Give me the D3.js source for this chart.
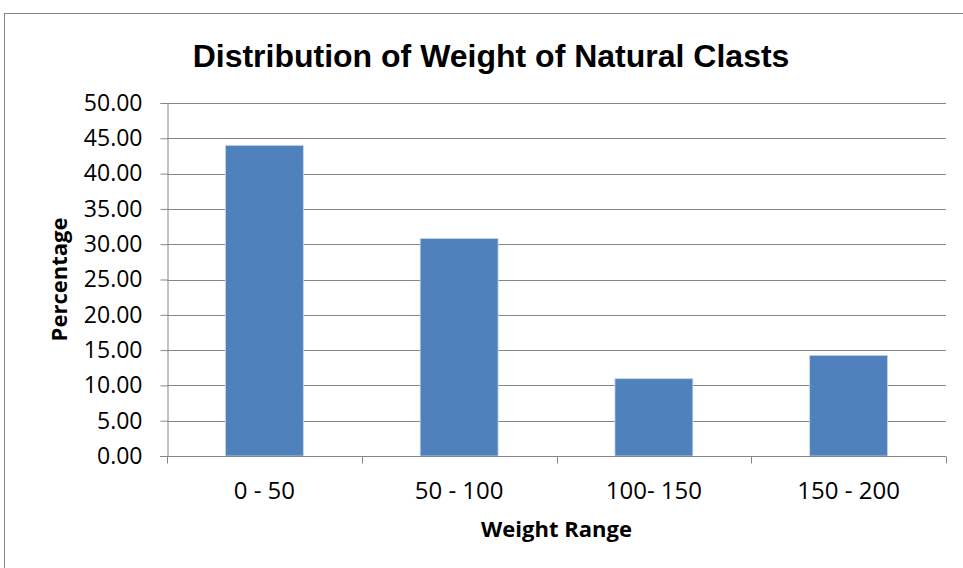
<!DOCTYPE html>
<html>
<head>
<meta charset="utf-8">
<script src="https://cdn.jsdelivr.net/npm/d3@7"></script>
<style>
  html, body { margin: 0; padding: 0; background: #fff; }
  svg { display: block; }
</style>
</head>
<body>
<svg id="chart" width="963" height="568"></svg>
<script>
const categories = ["0 - 50", "50 - 100", "100- 150", "150 - 200"];
const values = [44.0, 30.8, 10.95, 14.25];
const yTicks = [0, 5, 10, 15, 20, 25, 30, 35, 40, 45, 50];
const titleText = "Distribution of Weight of Natural Clasts";
const xTitle = "Weight Range";
const yTitle = "Percentage";

const svg = d3.select("#chart");
const plot = { left: 167, right: 946, top: 103, bottom: 456 };
const gridColor = "#868686";
const bodyFont = "'Open Sans', 'Noto Sans', sans-serif";

// outer chart border
svg.append("rect")
  .attr("x", 4.5).attr("y", 13.5)
  .attr("width", 1000).attr("height", 600)
  .attr("fill", "none").attr("stroke", gridColor).attr("stroke-width", 1);

const x = d3.scaleBand().domain(categories)
  .range([plot.left, plot.right]).paddingInner(0.6).paddingOuter(0.3);
const y = d3.scaleLinear().domain([0, 50]).range([plot.bottom, plot.top]);

// gridlines
svg.append("g").selectAll("line").data(yTicks.filter(d => d > 0)).join("line")
  .attr("x1", plot.left).attr("x2", plot.right)
  .attr("y1", d => Math.round(y(d)) + 0.5).attr("y2", d => Math.round(y(d)) + 0.5)
  .attr("stroke", gridColor).attr("stroke-width", 1);

// bars
svg.append("g").selectAll("rect").data(values).join("rect")
  .attr("x", (d, i) => x(categories[i]))
  .attr("y", d => y(d))
  .attr("width", x.bandwidth())
  .attr("height", d => y(0) - y(d))
  .attr("fill", "#4F81BD")
  .attr("stroke", "#c6d6ec").attr("stroke-width", 0.8);

// y axis
const yAxis = d3.axisLeft(y).tickValues(yTicks).tickFormat(d3.format(".2f")).tickSize(7).tickPadding(18);
const gy = svg.append("g").attr("transform", `translate(${plot.left + 0.5},0)`).call(yAxis);
gy.select(".domain").attr("stroke", gridColor);
gy.selectAll(".tick line").attr("stroke", gridColor);
gy.selectAll(".tick text")
  .attr("fill", "#000")
  .style("font-family", bodyFont)
  .style("font-size", "23px");

// x axis
const xEdges = d3.scaleLinear().domain([0, categories.length]).range([plot.left, plot.right]);
const gx = svg.append("g").attr("transform", `translate(0,${plot.bottom + 0.5})`);
gx.append("line").attr("x1", plot.left - 7).attr("x2", plot.right).attr("stroke", gridColor);
gx.selectAll(".edge").data(d3.range(categories.length + 1)).join("line")
  .attr("class", "edge")
  .attr("x1", d => Math.round(xEdges(d)) + 0.5).attr("x2", d => Math.round(xEdges(d)) + 0.5)
  .attr("y1", 0).attr("y2", 7).attr("stroke", gridColor);
gx.selectAll("text").data(categories).join("text")
  .attr("x", d => x(d) + x.bandwidth() / 2)
  .attr("y", 42)
  .attr("text-anchor", "middle")
  .style("font-family", bodyFont)
  .style("font-size", "24px")
  .text(d => d);

// titles
svg.append("text")
  .attr("x", 491).attr("y", 67)
  .attr("text-anchor", "middle")
  .style("font-family", "'Liberation Sans', Arial, sans-serif")
  .style("font-weight", "bold")
  .style("font-size", "32px")
  .text(titleText);

svg.append("text")
  .attr("x", (plot.left + plot.right) / 2).attr("y", 537)
  .attr("text-anchor", "middle")
  .style("font-family", bodyFont)
  .style("font-weight", "bold")
  .style("font-size", "22px")
  .text(xTitle);

svg.append("text")
  .attr("transform", `translate(67,${(plot.top + plot.bottom) / 2}) rotate(-90)`)
  .attr("text-anchor", "middle")
  .style("font-family", bodyFont)
  .style("font-weight", "bold")
  .style("font-size", "22px")
  .text(yTitle);
</script>
</body>
</html>
